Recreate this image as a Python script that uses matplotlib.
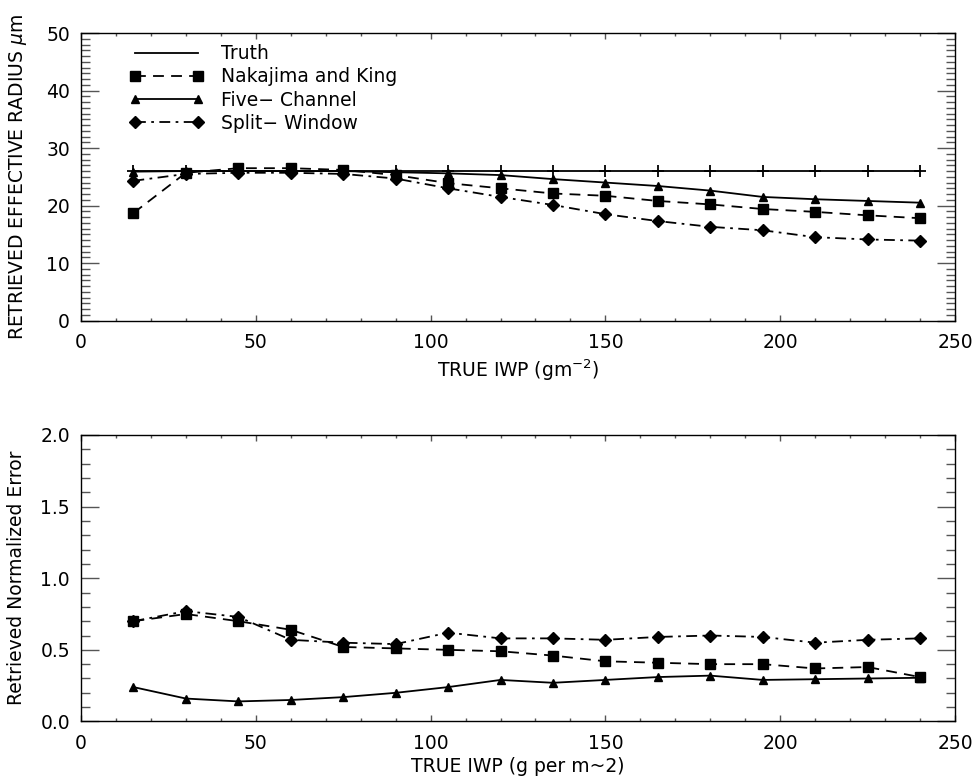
import matplotlib
matplotlib.use('Agg')
import matplotlib.pyplot as plt
from matplotlib.ticker import MultipleLocator, FormatStrFormatter

# true ice water path (g m^-2)
iwp = [15, 30, 45, 60, 75, 90, 105, 120, 135, 150, 165, 180, 195, 210, 225, 240]

# retrieved effective radius (um)
truth = [26.0] * 16
nakajima_re = [18.7, 25.7, 26.5, 26.5, 26.2, 25.3, 23.9, 23.0, 22.1, 21.7,
               20.8, 20.2, 19.4, 18.9, 18.3, 17.8]
five_re = [25.9, 26.0, 26.0, 26.0, 26.0, 25.8, 25.6, 25.3, 24.6, 24.0,
           23.4, 22.6, 21.5, 21.1, 20.8, 20.5]
split_re = [24.3, 25.5, 25.7, 25.7, 25.5, 24.7, 23.0, 21.5, 20.1, 18.5,
            17.3, 16.3, 15.7, 14.5, 14.1, 13.9]

# retrieved normalized error
nakajima_err = [0.70, 0.75, 0.70, 0.64, 0.52, 0.51, 0.50, 0.49, 0.46, 0.42,
                0.41, 0.40, 0.40, 0.37, 0.38, 0.31]
five_err = [0.24, 0.16, 0.14, 0.15, 0.17, 0.20, 0.24, 0.29, 0.27, 0.29,
            0.31, 0.32, 0.29, 0.295, 0.30, 0.305]
split_err = [0.70, 0.77, 0.73, 0.57, 0.55, 0.54, 0.62, 0.58, 0.58, 0.57,
             0.59, 0.60, 0.59, 0.55, 0.57, 0.58]

plt.rcParams['font.family'] = ['DejaVu Sans']
plt.rcParams['font.size'] = 13.5

fig = plt.figure(figsize=(9.77, 7.82), dpi=100)
ax1 = fig.add_axes([0.0829, 0.5901, 0.8946, 0.3676])
ax2 = fig.add_axes([0.0829, 0.0774, 0.8946, 0.3664])

lw = 1.3
dash = (0, (6, 4))
dashdot = (0, (6, 3, 1.5, 3))

# top panel
ax1.plot(iwp, truth, '-', color='k', lw=lw, label='Truth')
ax1.plot(iwp, truth, '+', color='k', ms=9, mew=1.3)
ax1.plot(iwp, nakajima_re, color='k', ls=dash, lw=lw, marker='s', ms=7,
         label='Nakajima and King')
ax1.plot(iwp, five_re, color='k', ls='-', lw=lw, marker='^', ms=6,
         label='Five\u2212 Channel')
ax1.plot(iwp, split_re, color='k', ls=dashdot, lw=lw, marker='D', ms=6.5,
         label='Split\u2212 Window')
ax1.set_ylim(0, 50)
ax1.set_xlim(0, 250)
ax1.set_xlabel('TRUE IWP (gm$^{-2}$)', labelpad=4)
ax1.set_ylabel('RETRIEVED EFFECTIVE RADIUS $\\mu$m', labelpad=12)
ax1.yaxis.set_major_locator(MultipleLocator(10))
ax1.yaxis.set_minor_locator(MultipleLocator(1))
ax1.legend(loc='upper left', bbox_to_anchor=(0.042, 1.0), frameon=False,
           handlelength=4.0, numpoints=2, labelspacing=0.22,
           borderaxespad=0.25, handletextpad=0.9, borderpad=0.35)

# bottom panel
ax2.plot(iwp, nakajima_err, color='k', ls=dash, lw=lw, marker='s', ms=7)
ax2.plot(iwp, five_err, color='k', ls='-', lw=lw, marker='^', ms=6)
ax2.plot(iwp, split_err, color='k', ls=dashdot, lw=lw, marker='D', ms=6.5)
ax2.set_ylim(0, 2.0)
ax2.set_xlim(0, 250)
ax2.set_xlabel('TRUE IWP (g per m~2)', labelpad=3)
ax2.set_ylabel('Retrieved Normalized Error', labelpad=10)
ax2.yaxis.set_major_locator(MultipleLocator(0.5))
ax2.yaxis.set_minor_locator(MultipleLocator(0.1))
ax2.yaxis.set_major_formatter(FormatStrFormatter('%.1f'))

for ax in (ax1, ax2):
    ax.xaxis.set_major_locator(MultipleLocator(50))
    ax.xaxis.set_minor_locator(MultipleLocator(10))
    ax.tick_params(which='both', direction='in', top=True, right=True,
                   width=1, color='#555555')
    ax.tick_params(axis='y', which='major', length=13, pad=8)
    ax.tick_params(axis='y', which='minor', length=6.5)
    ax.tick_params(axis='x', which='major', length=4.5, pad=9)
    ax.tick_params(axis='x', which='minor', length=2.2)
    for s in ax.spines.values():
        s.set_linewidth(1)

fig.savefig('out.png', dpi=100)
